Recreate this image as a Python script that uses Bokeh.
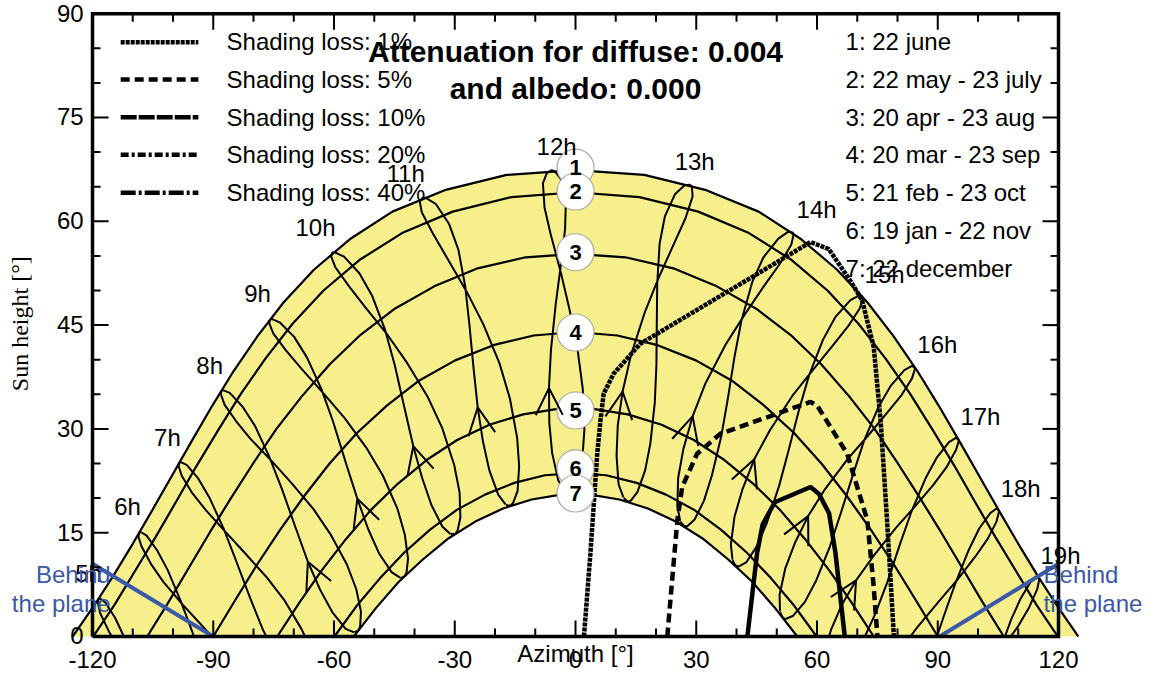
import math
from bokeh.plotting import figure
from bokeh.models import Range1d, ColumnDataSource, Arrow, OpenHead
from bokeh.embed import file_html
from bokeh.resources import INLINE
from bokeh.core.properties import value

# ------------------------------------------------------------------ data
# axis ticks
X_MAJOR = [-120, -90, -60, -30, 0, 30, 60, 90, 120]
X_MINOR = [-110, -100, -80, -70, -50, -40, -20, -10, 10, 20, 40, 50, 70, 80, 100, 110]
Y_MAJOR = [0, 15, 30, 45, 60, 75, 90]
Y_MINOR = [5, 10, 20, 25, 35, 40, 50, 55, 65, 70, 80, 85]

# sun paths for the 7 dates (azimuth, height)
D1_AZ = [-124.9, -119.8, -114.8, -109.9, -105.1, -100.3, -95.4, -90.3, -84.9, -79.0, -72.5, -65.0, -56.1, -45.5, -32.5, -17.1, 0.0,
         17.1, 32.5, 45.5, 56.1, 65.0, 72.5, 79.0, 84.9, 90.3, 95.4, 100.3, 105.1, 109.9, 114.8, 119.8, 124.9]
D1_H = [0.0, 4.3, 8.8, 13.5, 18.3, 23.2, 28.2, 33.3, 38.4, 43.4, 48.3, 53.0, 57.4, 61.4, 64.5, 66.7, 67.4,
        66.7, 64.5, 61.4, 57.4, 53.0, 48.3, 43.4, 38.4, 33.3, 28.2, 23.2, 18.3, 13.5, 8.8, 4.3, 0.0]
D2_AZ = [-119.8, -114.5, -109.4, -104.3, -99.2, -94.1, -88.7, -83.1, -77.0, -70.3, -62.6, -53.7, -43.1, -30.5, -15.9, 0.0,
         15.9, 30.5, 43.1, 53.7, 62.6, 70.3, 77.0, 83.1, 88.7, 94.1, 99.2, 104.3, 109.4, 114.5, 119.8]
D2_H = [0.0, 4.6, 9.5, 14.4, 19.5, 24.7, 29.9, 35.1, 40.2, 45.2, 50.0, 54.4, 58.3, 61.4, 63.5, 64.2,
        63.5, 61.4, 58.3, 54.4, 50.0, 45.2, 40.2, 35.1, 29.9, 24.7, 19.5, 14.4, 9.5, 4.6, 0.0]
D3_AZ = [-106.4, -101.2, -96.1, -90.9, -85.6, -80.1, -74.3, -68.0, -61.1, -53.4, -44.8, -35.1, -24.3, -12.4, 0.0,
         12.4, 24.3, 35.1, 44.8, 53.4, 61.1, 68.0, 74.3, 80.1, 85.6, 90.9, 96.1, 101.2, 106.4]
D3_H = [0.0, 4.9, 9.9, 15.0, 20.0, 25.0, 30.0, 34.7, 39.3, 43.6, 47.4, 50.6, 53.2, 54.8, 55.3,
        54.8, 53.2, 50.6, 47.4, 43.6, 39.3, 34.7, 30.0, 25.0, 20.0, 15.0, 9.9, 4.9, 0.0]
D4_AZ = [-90.0, -84.6, -79.1, -73.4, -67.4, -61.1, -54.3, -46.8, -38.8, -29.9, -20.4, -10.4, 0.0,
         10.4, 20.4, 29.9, 38.8, 46.8, 54.3, 61.1, 67.4, 73.4, 79.1, 84.6, 90.0]
D4_H = [0.0, 5.2, 10.4, 15.4, 20.3, 25.0, 29.4, 33.4, 37.0, 39.9, 42.1, 43.5, 44.0,
        43.5, 42.1, 39.9, 37.0, 33.4, 29.4, 25.0, 20.3, 15.4, 10.4, 5.2, 0.0]
D5_AZ = [-74.1, -68.6, -63.0, -57.0, -50.8, -44.1, -37.0, -29.4, -21.4, -13.0, -4.4,
         4.4, 13.0, 21.4, 29.4, 37.0, 44.1, 50.8, 57.0, 63.0, 68.6, 74.1]
D5_H = [0.0, 4.9, 9.6, 14.1, 18.3, 22.1, 25.5, 28.4, 30.6, 32.1, 32.9,
        32.9, 32.1, 30.6, 28.4, 25.5, 22.1, 18.3, 14.1, 9.6, 4.9, 0.0]
D6_AZ = [-59.9, -54.4, -48.6, -42.6, -36.2, -29.5, -22.5, -15.2, -7.6, 0.0,
         7.6, 15.2, 22.5, 29.5, 36.2, 42.6, 48.6, 54.4, 59.9]
D6_H = [0.0, 4.4, 8.4, 12.1, 15.4, 18.3, 20.5, 22.2, 23.3, 23.6,
        23.3, 22.2, 20.5, 18.3, 15.4, 12.1, 8.4, 4.4, 0.0]
D7_AZ = [-55.1, -49.6, -43.9, -37.8, -31.5, -24.9, -18.0, -10.9, -3.6,
         3.6, 10.9, 18.0, 24.9, 31.5, 37.8, 43.9, 49.6, 55.1]
D7_H = [0.0, 4.1, 7.9, 11.2, 14.2, 16.6, 18.5, 19.8, 20.5,
        20.5, 19.8, 18.5, 16.6, 14.2, 11.2, 7.9, 4.1, 0.0]

# hour loops (legal time), azimuth / height over the year
L05_AZ = [-112.2, -114.4, -116.8, -118.1, -118.5, -118.7, -118.1, -115.9, -115.2]
L05_H = [0.0, 2.7, 4.9, 5.5, 5.4, 4.9, 3.4, 0.7, 0.0]
L06_AZ = [-94.8, -95.3, -98.2, -101.4, -104.0, -106.6, -108.1, -108.4, -108.6, -107.8, -105.5, -102.4, -97.6, -93.0, -90.4]
L06_H = [0.0, 0.8, 5.3, 9.7, 12.5, 14.6, 15.1, 15.0, 14.4, 13.0, 10.5, 7.9, 4.6, 1.7, 0.0]
L07_AZ = [-76.8, -77.6, -80.8, -84.5, -87.5, -90.9, -93.7, -96.6, -98.1, -98.5, -98.6, -97.8, -95.2, -91.9, -86.8, -82.2,
          -76.8, -72.4, -68.1, -67.2]
L07_H = [0.0, 0.9, 5.5, 11.2, 15.7, 20.0, 22.8, 24.8, 25.2, 25.1, 24.6, 23.2, 20.7, 18.3, 15.0, 12.1, 8.6, 5.3, 1.1, 0.0]
L08_AZ = [-55.0, -57.1, -60.4, -63.4, -66.5, -69.4, -73.0, -76.1, -79.6, -82.7, -85.9, -87.6, -88.0, -88.1, -87.2, -84.3,
          -80.8, -75.4, -70.6, -65.1, -60.9, -56.8, -54.5, -53.3, -53.5, -53.9, -54.9]
L08_H = [0.6, 1.1, 3.5, 6.7, 10.8, 15.5, 21.4, 26.0, 30.4, 33.2, 35.2, 35.6, 35.5, 35.0, 33.5, 31.1, 28.6, 25.3, 22.2,
         18.4, 14.8, 10.4, 6.9, 3.6, 1.5, 0.9, 0.6]
L09_AZ = [-43.6, -45.7, -48.8, -51.5, -54.2, -56.9, -60.2, -63.1, -66.7, -69.9, -73.5, -75.5, -75.9, -76.1, -75.1, -71.9,
          -68.1, -62.4, -57.4, -52.0, -47.9, -44.2, -42.4, -41.6, -42.0, -42.5, -43.5]
L09_H = [8.5, 9.3, 12.0, 15.5, 19.9, 24.8, 31.0, 35.7, 40.3, 43.3, 45.4, 45.9, 45.8, 45.3, 43.8, 41.3, 38.7, 35.0, 31.6,
         27.3, 23.3, 18.4, 14.7, 11.2, 9.2, 8.7, 8.4]
L10_AZ = [-31.1, -33.1, -35.8, -38.1, -40.3, -42.4, -44.9, -47.3, -50.5, -53.7, -57.5, -59.8, -60.4, -60.7, -59.7, -56.4,
          -52.4, -46.6, -41.8, -36.7, -33.1, -30.1, -28.8, -28.6, -29.3, -29.9, -31.0]
L10_H = [14.8, 15.9, 19.0, 22.9, 27.5, 32.8, 39.2, 44.3, 49.2, 52.5, 54.9, 55.5, 55.5, 54.9, 53.4, 50.7, 47.7, 43.5, 39.5,
         34.6, 30.1, 24.7, 20.8, 17.2, 15.3, 14.8, 14.8]
L11_AZ = [-17.4, -19.2, -21.4, -23.0, -24.3, -25.3, -26.4, -27.4, -29.1, -31.4, -34.7, -37.2, -38.0, -38.7, -38.2, -35.4,
          -31.9, -27.0, -22.9, -18.9, -16.3, -14.5, -14.0, -14.4, -15.5, -16.2, -17.3]
L11_H = [19.1, 20.5, 24.0, 28.2, 33.1, 38.6, 45.3, 50.6, 55.9, 59.6, 62.5, 63.4, 63.4, 62.9, 61.3, 58.2, 54.7, 49.8, 45.1,
         39.5, 34.4, 28.7, 24.6, 21.0, 19.3, 18.9, 19.0]
L12_AZ = [-2.8, -4.3, -5.8, -6.5, -6.6, -6.1, -4.9, -3.7, -2.6, -2.4, -3.4, -5.1, -5.9, -7.1, -8.1, -7.7, -6.2, -3.6, -1.5,
          0.6, 1.8, 2.2, 1.7, 0.5, -0.9, -1.7, -2.7]
L12_H = [20.9, 22.6, 26.5, 30.8, 35.9, 41.4, 48.1, 53.4, 58.8, 62.7, 65.9, 67.2, 67.4, 67.0, 65.5, 62.0, 58.2, 52.5, 47.3,
         41.1, 35.8, 29.8, 25.7, 22.3, 20.8, 20.6, 20.8]
L13_AZ = [11.9, 10.7, 10.2, 10.5, 11.7, 13.8, 17.3, 20.7, 24.5, 27.3, 29.1, 28.9, 28.4, 27.1, 24.7, 22.2, 20.9, 20.3, 20.2,
          20.1, 19.7, 18.6, 17.3, 15.4, 13.7, 12.9, 12.0]
L13_H = [20.1, 22.0, 26.1, 30.5, 35.4, 40.7, 47.0, 51.9, 56.8, 60.4, 63.6, 65.0, 65.3, 65.2, 63.9, 60.7, 56.8, 51.0, 45.6,
         39.2, 33.8, 27.9, 24.0, 20.9, 19.6, 19.5, 20.0]
L14_AZ = [26.0, 25.3, 25.5, 26.8, 29.1, 32.3, 37.3, 41.9, 46.9, 50.7, 53.6, 54.2, 53.9, 52.9, 50.4, 46.7, 43.9, 41.2, 39.5,
          37.8, 36.2, 33.9, 31.9, 29.6, 27.7, 26.9, 26.0]
L14_H = [16.7, 18.8, 22.9, 27.1, 31.8, 36.6, 42.2, 46.4, 50.7, 53.8, 56.6, 58.1, 58.4, 58.5, 57.5, 54.8, 51.2, 45.6, 40.4,
         34.2, 28.9, 23.3, 19.6, 16.9, 15.9, 16.0, 16.6]
L15_AZ = [39.0, 38.6, 39.5, 41.5, 44.4, 48.3, 53.9, 58.8, 64.0, 67.7, 70.6, 71.4, 71.3, 70.5, 68.3, 64.6, 61.5, 58.0, 55.5,
          52.9, 50.6, 47.6, 45.1, 42.4, 40.5, 39.7, 39.0]
L15_H = [11.1, 13.3, 17.3, 21.3, 25.6, 29.8, 34.8, 38.4, 42.1, 44.8, 47.4, 48.8, 49.1, 49.3, 48.6, 46.2, 42.9, 37.7, 32.7,
         26.8, 21.8, 16.5, 13.1, 10.7, 10.1, 10.3, 11.0]
L16_AZ = [50.8, 50.7, 52.1, 54.5, 57.8, 62.0, 67.7, 72.5, 77.4, 80.9, 83.6, 84.3, 84.2, 83.6, 81.7, 78.4, 75.3, 71.7, 69.0,
          65.9, 63.2, 59.8, 57.0, 54.1, 52.1, 51.4, 50.8]
L16_H = [3.7, 6.0, 9.8, 13.5, 17.4, 21.3, 25.7, 28.9, 32.3, 34.8, 37.3, 38.6, 38.9, 39.1, 38.5, 36.3, 33.2, 28.3, 23.5,
         17.8, 13.0, 8.1, 5.0, 3.0, 2.5, 2.8, 3.6]
L17_AZ = [63.0, 63.5, 66.1, 69.7, 74.0, 79.6, 84.2, 88.9, 92.1, 94.5, 95.2, 95.1, 94.5, 92.8, 89.8, 87.0, 83.5, 80.7, 77.5,
          74.5, 71.9]
L17_H = [0.0, 1.0, 4.5, 8.1, 11.6, 15.7, 18.7, 21.9, 24.4, 26.9, 28.2, 28.5, 28.7, 28.1, 25.9, 22.9, 18.1, 13.5, 7.9, 3.3, 0.0]
L18_AZ = [83.2, 85.0, 90.6, 95.0, 99.4, 102.4, 104.6, 105.2, 105.1, 104.6, 103.0, 100.3, 97.7, 94.4, 91.6, 89.8]
L18_H = [0.0, 1.4, 5.3, 8.3, 11.6, 14.1, 16.6, 18.0, 18.3, 18.5, 17.8, 15.6, 12.5, 7.7, 3.1, 0.0]
L19_AZ = [108.1, 110.0, 112.7, 114.7, 115.2, 115.1, 114.5, 113.1, 110.6, 108.2, 106.7]
L19_H = [0.0, 1.5, 4.2, 6.8, 8.2, 8.5, 8.7, 7.9, 5.5, 2.4, 0.0]

# direction arrows on the loops (from -> to)
ARROW_FROM_AZ = [-63.4, -51.5, -38.1, -23.0, -6.5, 10.5, 26.8, 41.5, 54.5, 66.1]
ARROW_FROM_H = [6.7, 15.5, 22.9, 28.2, 30.8, 30.5, 27.1, 21.3, 13.5, 4.5]
ARROW_TO_AZ = [-66.5, -54.2, -40.3, -24.3, -6.6, 11.7, 29.1, 44.4, 57.8, 69.7]
ARROW_TO_H = [10.8, 19.9, 27.5, 33.1, 35.9, 35.4, 31.8, 25.6, 17.4, 8.1]

# iso-shading curves
LOSS1_AZ = [2.1, 3.7, 5.4, 6.2, 7.0, 9.5, 16.1, 58.4, 62.9, 68.3, 71.2, 74.1, 75.8, 77.4, 79.1]
LOSS1_H = [0.0, 12.0, 26.4, 31.2, 35.1, 38.0, 42.3, 57.0, 56.0, 51.4, 48.6, 41.8, 31.2, 16.8, 0.0]
LOSS5_AZ = [22.8, 25.3, 26.5, 30.2, 36.0, 58.4, 60.0, 67.5, 70.0, 72.5, 74.1, 75.0]
LOSS5_H = [0.0, 16.8, 21.6, 26.4, 29.3, 33.9, 33.4, 26.4, 21.6, 16.8, 7.1, 0.0]
LOSS10_AZ = [42.7, 45.1, 46.5, 49.5, 58.4, 60.5, 63.0, 64.6, 66.9]
LOSS10_H = [0.0, 12.0, 16.2, 19.4, 21.6, 20.6, 17.8, 12.0, 0.0]

# behind-the-plane limits
BEHIND_L_AZ = [-120.0, -90.0]
BEHIND_L_H = [10.5, 0.0]
BEHIND_R_AZ = [90.5, 120.0]
BEHIND_R_H = [0.0, 10.5]

# texts
HOUR_LABELS = ["5h", "6h", "7h", "8h", "9h", "10h", "11h", "12h", "13h", "14h", "15h", "16h", "17h", "18h", "19h"]
HOUR_LABEL_AZ = [-121.0, -111.3, -101.4, -90.9, -79.0, -64.6, -42.2, -4.7, 29.6, 59.9, 76.8, 89.9, 100.6, 110.6, 120.5]
HOUR_LABEL_H = [7.80, 17.49, 27.46, 37.86, 48.27, 57.80, 65.61, 69.51, 67.34, 60.40, 51.01, 40.90, 30.49, 20.09, 10.40]
DATE_NUMS = ["1", "2", "3", "4", "5", "6", "7"]
DATE_NUM_H = [67.77, 64.31, 55.53, 43.93, 32.66, 24.28, 20.66]
DATE_LEGEND = ["1: 22 june", "2: 22 may - 23 july", "3: 20 apr - 23 aug", "4: 20 mar - 23 sep",
               "5: 21 feb - 23 oct", "6: 19 jan - 22 nov", "7: 22 december"]
LEGEND_ROW_H = [84.68, 79.26, 73.82, 68.38, 62.92, 57.47, 51.98]
LEGEND_LINE_H = [85.88, 80.49, 75.04, 69.61, 64.12]
LOSS_LABELS = ["Shading loss: 1%", "Shading loss: 5%", "Shading loss: 10%", "Shading loss: 20%", "Shading loss: 40%"]
LOSS_DASHES = ["4 1", "9 5", "16 2", "8 3 3 3", "15 3 3 3"]
TITLE = ["Attenuation for diffuse: 0.004", "and albedo: 0.000"]

YELLOW = "#F7EF8B"
BLUE = "#3A59A8"
SANS = value("Liberation Sans")
# baseline corrections for the text renderer (data units of height)
UP24, UP30, UP22 = 1.24, 1.56, 1.14

# ------------------------------------------------------------------ figure
p = figure(width=1154, height=673, x_range=Range1d(-142.86, 143.85), y_range=Range1d(-5.35, 91.91),
           output_backend="svg", toolbar_location=None, title=None,
           x_axis_location=None, y_axis_location=None)
p.min_border_left = p.min_border_right = p.min_border_top = p.min_border_bottom = 0
p.outline_line_color = None
p.grid.visible = False
p.background_fill_color = "white"
p.border_fill_color = "white"

# yellow band between 22 june and 22 december
p.patch(D1_AZ + D7_AZ[::-1], D1_H + D7_H[::-1], fill_color=YELLOW, line_color=None)

p.multi_line([D1_AZ, D2_AZ, D3_AZ, D4_AZ, D5_AZ, D6_AZ, D7_AZ],
             [D1_H, D2_H, D3_H, D4_H, D5_H, D6_H, D7_H], line_color="black", line_width=2.2)
p.multi_line([L05_AZ, L06_AZ, L07_AZ, L08_AZ, L09_AZ, L10_AZ, L11_AZ, L12_AZ, L13_AZ, L14_AZ, L15_AZ, L16_AZ, L17_AZ, L18_AZ, L19_AZ],
             [L05_H, L06_H, L07_H, L08_H, L09_H, L10_H, L11_H, L12_H, L13_H, L14_H, L15_H, L16_H, L17_H, L18_H, L19_H],
             line_color="black", line_width=2.0)

asrc = ColumnDataSource(dict(xs=ARROW_FROM_AZ, ys=ARROW_FROM_H, xe=ARROW_TO_AZ, ye=ARROW_TO_H))
p.add_layout(Arrow(end=OpenHead(size=27, line_width=2.0, line_color="black"), x_start="xs", y_start="ys",
                   x_end="xe", y_end="ye", source=asrc, line_alpha=0.0))

# iso-shading lines
p.line(LOSS1_AZ, LOSS1_H, line_color="black", line_width=4.5, line_dash=LOSS_DASHES[0])
p.line(LOSS5_AZ, LOSS5_H, line_color="black", line_width=4.5, line_dash=LOSS_DASHES[1])
p.line(LOSS10_AZ, LOSS10_H, line_color="black", line_width=4.5)

# behind the plane
p.line(BEHIND_L_AZ, BEHIND_L_H, line_color=BLUE, line_width=4)
p.line(BEHIND_R_AZ, BEHIND_R_H, line_color=BLUE, line_width=4)

# frame and ticks
p.line([-120, 120, 120, -120, -120], [0, 0, 90, 90, 0], line_color="black", line_width=3.5, line_join="miter")
nM, nm = len(X_MAJOR), len(X_MINOR)
p.segment(x0=X_MAJOR, y0=[0] * nM, x1=X_MAJOR, y1=[2.31] * nM, line_color="black", line_width=2)
p.segment(x0=X_MINOR, y0=[0] * nm, x1=X_MINOR, y1=[1.16] * nm, line_color="black", line_width=2)
p.segment(x0=X_MAJOR, y0=[90] * nM, x1=X_MAJOR, y1=[87.69] * nM, line_color="black", line_width=2)
p.segment(x0=X_MINOR, y0=[90] * nm, x1=X_MINOR, y1=[88.84] * nm, line_color="black", line_width=2)
yM, ym = len(Y_MAJOR), len(Y_MINOR)
p.segment(x0=[-120] * yM, y0=Y_MAJOR, x1=[-116.02] * yM, y1=Y_MAJOR, line_color="black", line_width=2)
p.segment(x0=[-120] * ym, y0=Y_MINOR, x1=[-118.01] * ym, y1=Y_MINOR, line_color="black", line_width=2)
p.segment(x0=[120] * yM, y0=Y_MAJOR, x1=[116.02] * yM, y1=Y_MAJOR, line_color="black", line_width=2)
p.segment(x0=[120] * ym, y0=Y_MINOR, x1=[118.01] * ym, y1=Y_MINOR, line_color="black", line_width=2)

# tick labels and axis titles
p.text(x=X_MAJOR, y=[-4.55 + UP24] * nM, text=[str(v) for v in X_MAJOR], text_font=SANS, text_font_size="24px",
       text_align="center", text_baseline="alphabetic", text_color="black")
p.text(x=[-122.2] * yM, y=[v - 1.16 + UP24 for v in Y_MAJOR], text=[str(v) for v in Y_MAJOR], text_font=SANS,
       text_font_size="24px", text_align="right", text_baseline="alphabetic", text_color="black")
p.text(x=[0], y=[-3.71 + UP24], text=["Azimuth [°]"], text_font=SANS, text_font_size="24px",
       text_align="center", text_baseline="alphabetic", text_color="black")
p.text(x=[-137.9], y=[45.2], text=["Sun height [°]"], text_font=value("Liberation Serif"), text_font_size="24px",
       text_align="center", text_baseline="middle", angle=math.pi / 2, text_color="black")

# date markers
p.scatter(x=[0] * 7, y=DATE_NUM_H, size=37, marker="circle", fill_color="white", line_color="#a8a8a8", line_width=1.2)
p.text(x=[0] * 7, y=[v - 1.16 + UP22 for v in DATE_NUM_H], text=DATE_NUMS, text_font=SANS, text_font_size="22px",
       text_font_style="bold", text_align="center", text_baseline="alphabetic", text_color="black")

# hour labels
p.text(x=HOUR_LABEL_AZ, y=[v + UP24 for v in HOUR_LABEL_H], text=HOUR_LABELS, text_font=SANS, text_font_size="24px",
       text_align="center", text_baseline="alphabetic", text_color="black")

# legends
for i in range(5):
    p.line([-113.0, -93.7], [LEGEND_LINE_H[i]] * 2, line_color="black", line_width=4.5, line_dash=LOSS_DASHES[i])
p.text(x=[-86.7] * 5, y=[v + UP24 for v in LEGEND_ROW_H[:5]], text=LOSS_LABELS, text_font=SANS, text_font_size="24px",
       text_align="left", text_baseline="alphabetic", text_color="black")
p.text(x=[67.1] * 7, y=[v + UP24 for v in LEGEND_ROW_H], text=DATE_LEGEND, text_font=SANS, text_font_size="24px",
       text_align="left", text_baseline="alphabetic", text_color="black")

# title
p.text(x=[0, 0], y=[83.0 + UP30, 77.7 + UP30], text=TITLE, text_font=SANS, text_font_size="30px", text_font_style="bold",
       text_align="center", text_baseline="alphabetic", text_color="black")

# behind the plane texts
p.text(x=[-115.5, -115.5], y=[7.66 + UP24, 3.57 + UP24], text=["Behind", "the plane"], text_font=SANS,
       text_font_size="24px", text_align="right", text_baseline="alphabetic", text_color=BLUE)
p.text(x=[116.3, 116.3], y=[7.66 + UP24, 3.57 + UP24], text=["Behind", "the plane"], text_font=SANS,
       text_font_size="24px", text_align="left", text_baseline="alphabetic", text_color=BLUE)

open("out.html", "w").write(file_html(p, INLINE))
